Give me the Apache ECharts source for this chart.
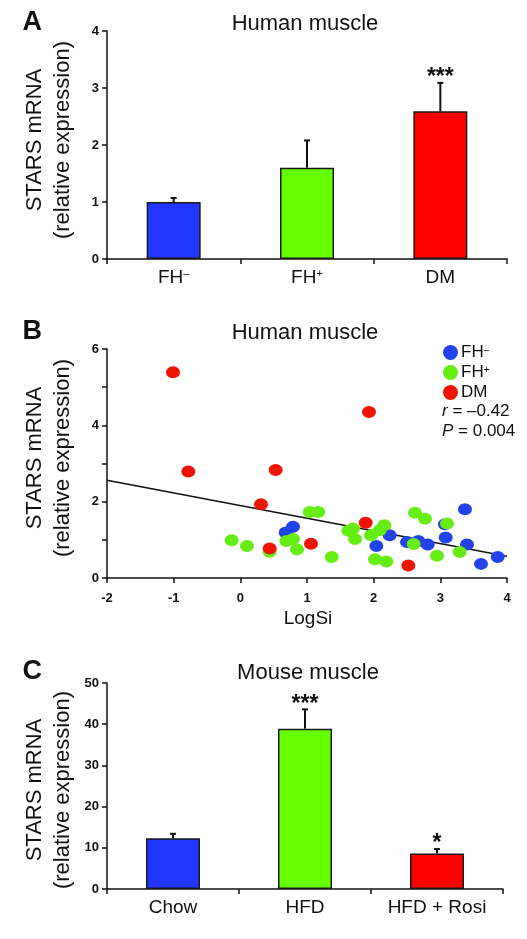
<!DOCTYPE html>
<html><head><meta charset="utf-8">
<script src="https://cdn.jsdelivr.net/npm/echarts@6/dist/echarts.min.js"></script>
<style>html,body{margin:0;padding:0;background:#fff}#c{width:527px;height:939px}</style>
</head><body><div id="c"></div>
<script>
// Panel A: human muscle bars
const catsA = ['FH–', 'FH+', 'DM'];
const meanA = [1.0, 1.6, 2.59];
const errA = [0.07, 0.48, 0.5];
const sigA = ['', '', '***'];

// Panel B: scatter STARS mRNA vs LogSi
const fhMinus = [[0.68,1.19],[0.79,1.34],[2.04,0.84],[2.24,1.12],[2.50,0.94],[2.67,0.97],[2.81,0.88],[3.08,1.06],[3.07,1.41],[3.37,1.80],[3.40,0.88],[3.61,0.37],[3.86,0.55]];
const fhPlus = [[-0.13,0.99],[0.10,0.84],[0.44,0.69],[0.69,0.97],[0.79,1.02],[0.85,0.75],[1.04,1.73],[1.17,1.73],[1.37,0.55],[1.62,1.24],[1.69,1.30],[1.72,1.02],[1.96,1.12],[2.09,1.25],[2.16,1.38],[2.02,0.49],[2.19,0.43],[2.60,0.89],[2.62,1.71],[2.77,1.55],[2.95,0.58],[3.10,1.43],[3.29,0.68]];
const dm = [[-1.01,5.39],[-0.78,2.79],[0.31,1.93],[0.53,2.83],[0.44,0.77],[1.06,0.90],[1.93,4.35],[1.88,1.45],[2.52,0.33]];
const fitLine = [[-2,2.56],[4,0.57]];
const statR = '–0.42';
const statP = '0.004';

// Panel C: mouse muscle bars
const catsC = ['Chow', 'HFD', 'HFD + Rosi'];
const meanC = [12.3, 38.9, 8.6];
const errC = [1.1, 4.7, 1.1];
const sigC = ['', '***', '*'];

const FONT = '"Liberation Sans", Arial, Helvetica, sans-serif';
const INK = '#111';
const barColors = ['#2136ff', '#66ff00', '#ff0000'];
const ptColors = {'FH–':'#2242ea', 'FH+':'#66ee14', 'DM':'#ee1400'};

function supLabel(v) {
  if (v.indexOf('FH') === 0) return 'FH{s|' + v.slice(2) + '}';
  return v;
}

function axisBase() {
  return {
    axisLine: {show: true, onZero: false, lineStyle: {color: INK, width: 1.5}},
    axisTick: {show: true, length: 5, lineStyle: {color: INK, width: 1.5}},
    splitLine: {show: false}
  };
}
function valueY(idx, min, max, interval, fmt) {
  return Object.assign(axisBase(), {
    type: 'value', gridIndex: idx, min: min, max: max, interval: interval,
    axisLabel: {color: INK, fontFamily: FONT, fontWeight: 'bold', fontSize: 13, margin: 8,
      formatter: fmt || (v => String(v))}
  });
}
function catX(idx, cats) {
  return Object.assign(axisBase(), {
    type: 'category', gridIndex: idx, data: cats,
    axisLabel: {color: INK, fontFamily: FONT, fontSize: 19, margin: 9,
      formatter: supLabel,
      rich: {s: {fontSize: 11, fontFamily: FONT, color: INK, verticalAlign: 'top', padding: [0, 0, 8, 0]}}}
  });
}

function barSeries(idx, means) {
  return {
    type: 'bar', xAxisIndex: idx, yAxisIndex: idx, barWidth: 54,
    data: means.map((m, i) => ({value: m, itemStyle: {color: barColors[i]}})),
    itemStyle: {borderColor: '#1a1a1a', borderWidth: 1.5},
    silent: true, z: 2
  };
}
function errSeries(idx, means, errs, sigs) {
  return {
    type: 'custom', xAxisIndex: idx, yAxisIndex: idx, z: 3, silent: true,
    data: means.map((m, i) => [i, m, errs[i]]),
    renderItem: function (params, api) {
      const i = api.value(0), m = api.value(1), e = api.value(2);
      const p0 = api.coord([i, m]);
      const p1 = api.coord([i, m + e]);
      const ch = [
        {type: 'line', shape: {x1: p0[0], y1: p0[1], x2: p1[0], y2: p1[1]}, style: {stroke: INK, lineWidth: 2}},
        {type: 'line', shape: {x1: p1[0] - 3, y1: p1[1], x2: p1[0] + 3, y2: p1[1]}, style: {stroke: INK, lineWidth: 2}}
      ];
      if (sigs[i]) {
        ch.push({type: 'text', x: p1[0], y: p1[1] - 5,
          style: {text: sigs[i], fill: INK, font: 'bold 23px ' + FONT, align: 'center', verticalAlign: 'middle'}});
      }
      return {type: 'group', children: ch};
    }
  };
}

function yName(cx, cy) {
  return [
    {type: 'text', x: cx - 14, y: cy, rotation: Math.PI / 2,
      style: {text: 'STARS mRNA', fill: INK, font: '22px ' + FONT, align: 'center', verticalAlign: 'middle'}},
    {type: 'text', x: cx + 14, y: cy, rotation: Math.PI / 2,
      style: {text: '(relative expression)', fill: INK, font: '22px ' + FONT, align: 'center', verticalAlign: 'middle'}}
  ];
}
function txt(x, y, s, font, align) {
  return {type: 'text', x: x, y: y, style: {text: s, fill: INK, font: font, align: align || 'center', verticalAlign: 'middle'}};
}

const chart = echarts.init(document.getElementById('c'), null, {renderer: 'canvas'});
chart.setOption({
  backgroundColor: '#fff',
  animation: false,
  grid: [
    {left: 107, top: 31, width: 400, height: 228},
    {left: 107, top: 349, width: 400, height: 229},
    {left: 107, top: 683, width: 396, height: 206}
  ],
  xAxis: [
    catX(0, catsA),
    Object.assign(axisBase(), {type: 'value', gridIndex: 1, min: -2, max: 4, interval: 1,
      axisLabel: {color: INK, fontFamily: FONT, fontWeight: 'bold', fontSize: 13, margin: 14}}),
    catX(2, catsC)
  ],
  yAxis: [
    valueY(0, 0, 4, 1),
    valueY(1, 0, 6, 1, v => (v % 2 === 0 ? String(v) : '')),
    valueY(2, 0, 50, 10)
  ],
  legend: {
    data: ['FH–', 'FH+', 'DM'], orient: 'vertical', left: 438, top: 339,
    icon: 'circle', itemWidth: 15, itemHeight: 15, itemGap: 2,
    textStyle: {color: INK, fontFamily: FONT, fontSize: 17, lineHeight: 15, padding: [0, 0, 0, -2],
      rich: {s: {fontSize: 10, lineHeight: 15, fontFamily: FONT, color: INK, verticalAlign: 'top', padding: [0, 0, 7, 0]}}},
    formatter: supLabel
  },
  series: [
    barSeries(0, meanA),
    errSeries(0, meanA, errA, sigA),
    {type: 'line', name: 'fit', xAxisIndex: 1, yAxisIndex: 1, data: fitLine, showSymbol: false,
      lineStyle: {color: INK, width: 1.5}, silent: true, z: 1},
    {type: 'scatter', name: 'FH–', xAxisIndex: 1, yAxisIndex: 1, data: fhMinus, symbolSize: [14, 12],
      itemStyle: {color: ptColors['FH–'], opacity: 1}, z: 2},
    {type: 'scatter', name: 'FH+', xAxisIndex: 1, yAxisIndex: 1, data: fhPlus, symbolSize: [14, 12],
      itemStyle: {color: ptColors['FH+'], opacity: 1}, z: 3},
    {type: 'scatter', name: 'DM', xAxisIndex: 1, yAxisIndex: 1, data: dm, symbolSize: [14, 12],
      itemStyle: {color: ptColors['DM'], opacity: 1}, z: 4},
    barSeries(2, meanC),
    errSeries(2, meanC, errC, sigC)
  ],
  graphic: [].concat(
    [txt(42, 23, 'A', 'bold 27px ' + FONT, 'right'),
     txt(42, 332, 'B', 'bold 27px ' + FONT, 'right'),
     txt(42, 672, 'C', 'bold 27px ' + FONT, 'right'),
     txt(305, 24, 'Human muscle', '22px ' + FONT),
     txt(305, 333, 'Human muscle', '22px ' + FONT),
     txt(308, 673, 'Mouse muscle', '22px ' + FONT),
     txt(308, 619, 'LogSi', '19px ' + FONT),
     {type: 'text', x: 442, y: 411, style: {text: '{i|r} = ' + statR, fill: INK, font: '17px ' + FONT, verticalAlign: 'middle',
       rich: {i: {fontStyle: 'italic', fontSize: 17, fontFamily: FONT, fill: INK}}}},
     {type: 'text', x: 442, y: 431, style: {text: '{i|P} = ' + statP, fill: INK, font: '17px ' + FONT, verticalAlign: 'middle',
       rich: {i: {fontStyle: 'italic', fontSize: 17, fontFamily: FONT, fill: INK}}}}
    ],
    yName(49, 140), yName(49, 458), yName(49, 790)
  )
});
</script>
</body></html>
